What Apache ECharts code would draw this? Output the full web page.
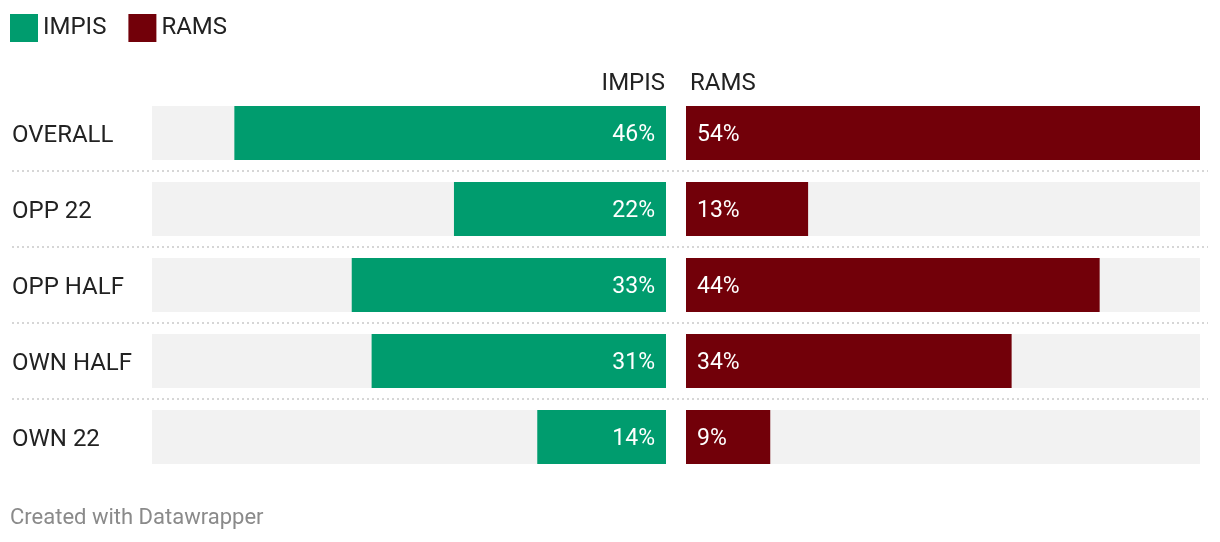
<!DOCTYPE html>
<html><head><meta charset="utf-8">
<script src="https://cdn.jsdelivr.net/npm/echarts@6/dist/echarts.min.js"></script>
<style>html,body{margin:0;padding:0;background:#fff}#c{width:1220px;height:542px}</style>
</head><body><div id="c"></div>
<script>
const categories = ['OVERALL', 'OPP 22', 'OPP HALF', 'OWN HALF', 'OWN 22'];
const impis = [45.6, 22.4, 33.2, 31.1, 13.6];
const rams = [54.3, 12.9, 43.7, 34.4, 8.9];
const seriesNames = ['IMPIS', 'RAMS'];
const colors = ['#009c6e', '#720009'];
const scaleMax = Math.max(...impis, ...rams);

const FONT = 'Roboto';
const chart = echarts.init(document.getElementById('c'), null, {renderer: 'canvas'});
const gridTop = 95, gridH = 380;
const labelFmt = p => Math.round(p.value) + '%';
chart.setOption({
  animation: false,
  textStyle: {fontFamily: FONT},
  color: colors,
  legend: {
    left: 10, top: 14, padding: 0, itemWidth: 28, itemHeight: 28, itemGap: 22,
    icon: 'rect',
    textStyle: {fontSize: 24, color: '#222', fontFamily: FONT, padding: [2, 0, 0, 0]},
    data: seriesNames
  },
  grid: [
    {left: 152, width: 514, top: gridTop, height: gridH},
    {left: 686, width: 514, top: gridTop, height: gridH},
    {left: 12, width: 1196, top: gridTop, height: gridH}
  ],
  xAxis: [
    {gridIndex: 0, type: 'value', min: 0, max: scaleMax, inverse: true, show: false},
    {gridIndex: 1, type: 'value', min: 0, max: scaleMax, show: false},
    {gridIndex: 2, type: 'value', min: 0, max: 1, show: false}
  ],
  yAxis: [
    {gridIndex: 0, type: 'category', data: categories, inverse: true,
     axisLine: {show: false}, axisTick: {show: false}, splitLine: {show: false},
     axisLabel: {align: 'left', margin: 140, fontSize: 24, color: '#222', fontFamily: FONT,
       formatter: v => '{a|' + v + '}',
       rich: {a: {fontSize: 24, color: '#222', fontFamily: FONT, padding: [6, 0, 0, 0]}}}},
    {gridIndex: 1, type: 'category', data: categories, inverse: true, show: false},
    {gridIndex: 2, type: 'category', data: ['', '', '', '', '', ''], boundaryGap: false,
     axisLine: {show: false}, axisTick: {show: false}, axisLabel: {show: false},
     splitLine: {show: true, interval: (i) => i > 0 && i < 5,
       lineStyle: {color: '#d6d6d6', width: 2, type: [2, 3]}}}
  ],
  title: [
    {text: seriesNames[0], right: 1220 - 665, top: 72,
     textStyle: {fontSize: 24, fontWeight: 'normal', color: '#222', fontFamily: FONT}, padding: 0},
    {text: seriesNames[1], left: 690, top: 72,
     textStyle: {fontSize: 24, fontWeight: 'normal', color: '#222', fontFamily: FONT}, padding: 0},
    {text: 'Created with Datawrapper', left: 10, top: 507,
     textStyle: {fontSize: 22, fontWeight: 'normal', color: '#8a8a8a', fontFamily: FONT}, padding: 0}
  ],
  series: [
    {name: seriesNames[0], type: 'bar', xAxisIndex: 0, yAxisIndex: 0, data: impis,
     barWidth: 54, showBackground: true, backgroundStyle: {color: '#f2f2f2'},
     label: {show: true, position: 'insideRight', distance: 11, offset: [0, 2], formatter: labelFmt,
       color: '#fff', fontSize: 23, fontFamily: FONT}},
    {name: seriesNames[1], type: 'bar', xAxisIndex: 1, yAxisIndex: 1, data: rams,
     barWidth: 54, showBackground: true, backgroundStyle: {color: '#f2f2f2'},
     label: {show: true, position: 'insideLeft', distance: 11, offset: [0, 2], formatter: labelFmt,
       color: '#fff', fontSize: 23, fontFamily: FONT}},
    {type: 'line', xAxisIndex: 2, yAxisIndex: 2, data: [], silent: true}
  ]
});
</script></body></html>
